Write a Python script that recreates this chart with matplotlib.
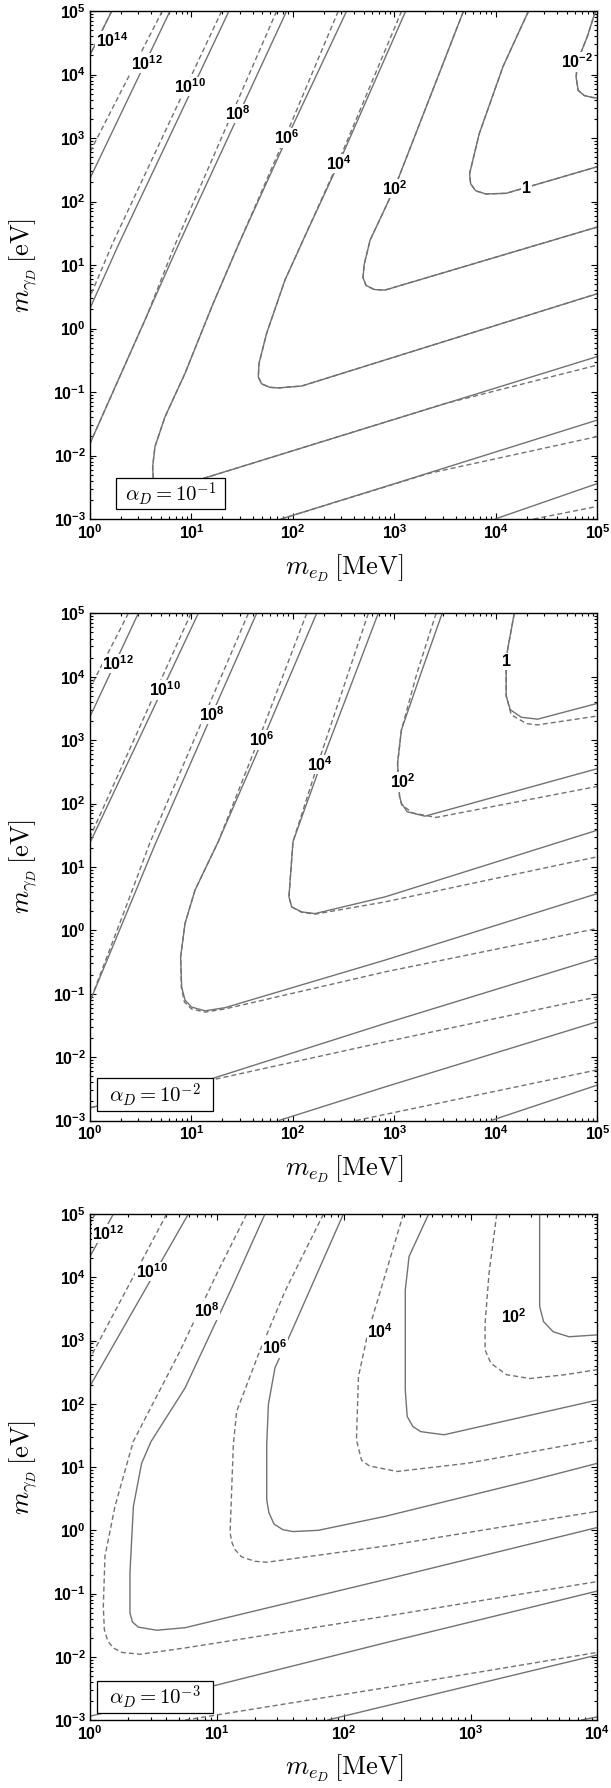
import matplotlib
matplotlib.use('Agg')
import matplotlib.pyplot as plt
from matplotlib.patches import Rectangle
from matplotlib.ticker import LogLocator, FuncFormatter, NullFormatter
import numpy as np

plt.rcParams['mathtext.fontset'] = 'custom'
plt.rcParams['mathtext.bf'] = 'Liberation Sans:bold'
plt.rcParams['mathtext.rm'] = 'Liberation Sans'
plt.rcParams['mathtext.it'] = 'Liberation Sans:italic'
plt.rcParams['mathtext.sf'] = 'Liberation Sans'

# All curves: (log10 m_eD / MeV, log10 m_gammaD / eV)
# ---------------- alpha_D = 1e-1 ----------------
a1_s14 = [(0.214, 5.0), (0.0, 4.31)]
a1_s12 = [(0.788, 5.0), (0.0, 2.365)]
a1_d12 = [(0.712, 5.0), (0.0, 2.78)]
a1_s10 = [(1.369, 5.0), (0.279, 1.315), (0.0, 0.318)]
a1_d10 = [(1.297, 5.0), (0.225, 1.35), (0.0, 0.50)]
a1_s8 = [(1.937, 5.0), (0.87, 1.315), (0.0, -1.81)]
a1_d8 = [(1.839, 5.0), (0.84, 1.33), (0.56, 0.2), (0.0, -1.81)]
a1_s8_low = [(1.88, -3.0), (2.906, -2.49), (5.0, -1.44)]
a1_d8_low = [(1.88, -3.0), (3.34, -2.28), (5.0, -1.70)]
a1_s10_low = [(3.99, -3.0), (5.0, -2.44)]
a1_d10_low = [(4.37, -3.0), (5.0, -2.8)]
a1_s6 = [(2.528, 5.0), (1.94, 3.0), (1.47, 1.35), (1.2, 0.344), (0.936, -0.706),
         (0.739, -1.39), (0.64, -1.86), (0.617, -2.18), (0.625, -2.40), (0.67, -2.52),
         (0.76, -2.56), (0.9, -2.50), (1.117, -2.36), (5.0, -0.44)]
a1_d6 = [(2.446, 5.0), (1.92, 3.0), (1.47, 1.35), (1.2, 0.344), (0.936, -0.706),
         (0.739, -1.39), (0.64, -1.86), (0.617, -2.18), (0.625, -2.40), (0.67, -2.52),
         (0.76, -2.56), (0.9, -2.50), (1.117, -2.36), (3.5, -1.18), (5.0, -0.575)]
a1_s4 = [(3.11, 5.0), (2.45, 2.6), (2.10, 1.394), (1.92, 0.76), (1.74, -0.076),
         (1.665, -0.55), (1.658, -0.76), (1.69, -0.87), (1.77, -0.925), (1.855, -0.935),
         (2.085, -0.905), (5.0, 0.55)]
a1_d4 = [(3.07, 5.0), (2.44, 2.6), (2.10, 1.394), (1.92, 0.76), (1.74, -0.076),
         (1.665, -0.55), (1.658, -0.76), (1.69, -0.87), (1.77, -0.925), (1.855, -0.935),
         (2.085, -0.905), (5.0, 0.55)]
a1_s2 = [(3.68, 5.0), (3.0, 2.21), (2.76, 1.394), (2.70, 1.0), (2.69, 0.80), (2.72, 0.68),
         (2.80, 0.615), (2.906, 0.606), (5.0, 1.6)]
a1_s0 = [(4.32, 5.0), (4.07, 4.13), (3.835, 3.07), (3.74, 2.44), (3.75, 2.28), (3.80, 2.17),
         (3.90, 2.12), (4.10, 2.13), (5.0, 2.55)]
a1_sm2 = [(4.98, 5.0), (4.9, 4.6), (4.8, 4.2), (4.79, 3.95), (4.81, 3.75), (4.87, 3.67),
          (4.95, 3.64), (5.0, 3.63)]
a1_labels = [('10^{14}', 0.214, 4.54), ('10^{12}', 0.558, 4.18), ('10^{10}', 0.985, 3.81),
             ('10^{8}', 1.46, 3.39), ('10^{6}', 1.94, 3.0), ('10^{4}', 2.45, 2.60),
             ('10^{2}', 3.0, 2.21), ('1', 4.30, 2.21), ('10^{-2}', 4.80, 4.20)]

# ---------------- alpha_D = 1e-2 ----------------
a2_s12 = [(0.476, 5.0), (0.0, 3.37)]
a2_d12 = [(0.378, 5.0), (0.0, 3.82)]
a2_s12_low = [(3.95, -3.0), (5.0, -2.44)]
a2_s10 = [(1.067, 5.0), (0.0, 1.38)]
a2_d10 = [(0.995, 5.0), (0.0, 1.47)]
a2_s10_low = [(1.86, -3.0), (2.906, -2.47), (5.0, -1.44)]
a2_d10_low = [(2.62, -3.0), (5.0, -2.2)]
a2_s8 = [(1.642, 5.0), (1.2, 3.4), (0.64, 1.35), (0.0, -1.12)]
a2_d8 = [(1.56, 5.0), (0.59, 1.38), (0.378, 0.47), (0.0, -1.12)]
a2_s8_low = [(0.0, -2.8), (0.5, -2.6), (1.2, -2.34), (2.906, -1.47), (5.0, -0.44)]
a2_d8_low = [(0.0, -2.8), (0.5, -2.6), (1.2, -2.36), (2.906, -1.76), (5.0, -1.05)]
a2_s6 = [(2.233, 5.0), (1.70, 3.0), (1.264, 1.40), (1.034, 0.632), (0.936, 0.106),
         (0.893, -0.42), (0.903, -0.893), (0.936, -1.10), (1.0, -1.21), (1.133, -1.27),
         (1.33, -1.22), (2.906, -0.47), (5.0, 0.58)]
a2_d6 = [(2.135, 5.0), (1.66, 3.0), (1.264, 1.40), (1.034, 0.632), (0.936, 0.106),
         (0.893, -0.42), (0.90, -0.90), (0.93, -1.13), (1.0, -1.24), (1.133, -1.29),
         (1.33, -1.24), (2.906, -0.656), (5.0, 0.03)]
a2_s4 = [(2.84, 5.0), (2.27, 2.6), (2.0, 1.40), (1.96, 0.527), (1.987, 0.369),
         (2.085, 0.29), (2.217, 0.264), (2.906, 0.527), (5.0, 1.58)]
a2_d4 = [(2.742, 5.0), (2.25, 2.65), (2.0, 1.40), (1.96, 0.527), (1.987, 0.369),
         (2.085, 0.285), (2.217, 0.255), (2.906, 0.448), (5.0, 1.16)]
a2_s2 = [(3.47, 5.0), (3.26, 4.05), (3.068, 3.16), (3.03, 2.63), (3.05, 2.11), (3.07, 2.0),
         (3.125, 1.87), (3.30, 1.80), (5.0, 2.55)]
a2_d2 = [(3.41, 5.0), (3.22, 4.05), (3.068, 3.16), (3.03, 2.63), (3.05, 2.11), (3.07, 1.98),
         (3.18, 1.85), (3.41, 1.78), (5.0, 2.27)]
a2_s0 = [(4.18, 5.0), (4.10, 4.3), (4.10, 3.7), (4.14, 3.48), (4.25, 3.36), (4.41, 3.33),
         (5.0, 3.58)]
a2_d0 = [(4.18, 5.0), (4.10, 4.3), (4.10, 3.7), (4.15, 3.40), (4.30, 3.26), (4.41, 3.24),
         (5.0, 3.38)]
a2_labels = [('10^{12}', 0.279, 4.21), ('10^{10}', 0.739, 3.79), ('10^{8}', 1.199, 3.40),
             ('10^{6}', 1.69, 3.0), ('10^{4}', 2.266, 2.61), ('10^{2}', 3.087, 2.34),
             ('1', 4.10, 4.24)]

# ---------------- alpha_D = 1e-3 ----------------
a3_s12 = [(0.184, 5.0), (0.0, 4.33)]
a3_d12 = [(0.04, 5.0), (0.0, 4.85)]
a3_s12_low = [(1.87, -3.0), (2.325, -2.78), (4.0, -1.97)]
a3_s14_low = [(3.87, -3.0), (4.0, -2.95)]
a3_s10 = [(0.775, 5.0), (0.0, 2.28)]
a3_d10 = [(0.604, 5.0), (0.0, 2.72)]
a3_s10_low = [(0.0, -2.94), (0.972, -2.46), (2.325, -1.78), (4.0, -0.96)]
a3_d10_low = [(0.75, -3.0), (2.325, -2.49), (4.0, -1.93)]
a3_s8 = [(1.379, 5.0), (1.117, 3.83), (0.749, 2.25), (0.48, 1.4), (0.407, 1.06),
         (0.342, 0.38), (0.315, -0.67), (0.315, -1.31), (0.335, -1.45), (0.38, -1.53),
         (0.525, -1.58), (0.749, -1.54), (2.325, -0.78), (4.0, 0.045)]
a3_d8 = [(1.235, 5.0), (1.01, 4.1), (0.696, 2.78), (0.34, 1.4), (0.197, 0.379),
         (0.118, -0.41), (0.105, -1.2), (0.113, -1.57), (0.14, -1.75), (0.184, -1.86),
         (0.25, -1.93), (0.394, -1.96), (0.749, -1.86), (2.325, -1.36), (4.0, -0.81)]
a3_s6 = [(1.997, 5.0), (1.59, 3.15), (1.458, 2.57), (1.406, 1.99), (1.393, 1.36),
         (1.393, 0.48), (1.41, 0.28), (1.45, 0.10), (1.52, 0.01), (1.60, -0.02),
         (1.80, 0.0), (2.325, 0.22), (3.5, 0.8), (4.0, 1.06)]
a3_d6 = [(1.84, 5.0), (1.537, 3.78), (1.327, 2.78), (1.156, 1.88), (1.13, 1.36),
         (1.104, -0.04), (1.12, -0.2), (1.143, -0.305), (1.195, -0.42), (1.3, -0.49),
         (1.393, -0.505), (2.325, -0.25), (4.0, 0.30)]
a3_s4 = [(2.669, 5.0), (2.515, 4.33), (2.485, 3.8), (2.485, 2.22), (2.5, 1.80),
         (2.545, 1.64), (2.607, 1.56), (2.79, 1.51), (4.0, 2.06)]
a3_d4 = [(2.47, 5.0), (2.33, 4.06), (2.19, 3.12), (2.116, 2.43), (2.10, 1.43), (2.14, 1.11),
         (2.20, 1.02), (2.246, 1.0), (2.42, 0.93), (2.976, 1.06), (4.0, 1.43)]
a3_s2 = [(3.544, 5.0), (3.544, 3.54), (3.575, 3.30), (3.65, 3.14), (3.775, 3.06),
         (4.0, 3.09)]
a3_d2 = [(3.206, 5.0), (3.145, 4.06), (3.114, 3.27), (3.114, 2.85), (3.16, 2.64),
         (3.283, 2.46), (3.467, 2.40), (3.743, 2.46), (4.0, 2.54)]
a3_labels = [('10^{12}', 0.144, 4.69), ('10^{10}', 0.486, 4.09), ('10^{8}', 0.92, 3.48),
             ('10^{6}', 1.46, 2.88), ('10^{4}', 2.285, 3.14), ('10^{2}', 3.34, 3.38)]

panels = [
    dict(rect=[0.1473, 0.7097, 0.8306, 0.2841], xmax=5, alpha='10^{-1}',
         box=(0.051, 0.019, 0.215, 0.061),
         solid=[a1_s14, a1_s12, a1_s10, a1_s8, a1_s8_low, a1_s10_low, a1_s6, a1_s4,
                a1_s2, a1_s0, a1_sm2],
         dashed=[a1_s14, a1_d12, a1_d10, a1_d8, a1_d8_low, a1_d10_low, a1_d6, a1_d4,
                 a1_s2, a1_s0, a1_sm2],
         labels=a1_labels),
    dict(rect=[0.1473, 0.3733, 0.8306, 0.2837], xmax=5, alpha='10^{-2}',
         box=(0.013, 0.019, 0.230, 0.064),
         solid=[a2_s12, a2_s12_low, a2_s10, a2_s10_low, a2_s8, a2_s8_low, a2_s6, a2_s4,
                a2_s2, a2_s0],
         dashed=[a2_d12, a2_d10, a2_d10_low, a2_d8, a2_d8_low, a2_d6, a2_d4, a2_d2, a2_d0],
         labels=a2_labels),
    dict(rect=[0.1473, 0.0380, 0.8306, 0.2830], xmax=4, alpha='10^{-3}',
         box=(0.013, 0.014, 0.230, 0.064),
         solid=[a3_s12, a3_s12_low, a3_s14_low, a3_s10, a3_s10_low, a3_s8, a3_s6, a3_s4,
                a3_s2],
         dashed=[a3_d12, a3_d10, a3_d10_low, a3_d8, a3_d6, a3_d4, a3_d2],
         labels=a3_labels),
]

LINE_COLOR = '#727272'

fig = plt.figure(figsize=(6.11, 17.88), dpi=100)

for p in panels:
    ax = fig.add_axes(p['rect'])
    ax.set_xscale('log')
    ax.set_yscale('log')
    ax.set_xlim(1, 10 ** p['xmax'])
    ax.set_ylim(1e-3, 1e5)

    for pts in p['solid']:
        u, v = np.array(pts).T
        ax.plot(10 ** u, 10 ** v, color=LINE_COLOR, lw=1.0, solid_capstyle='butt', zorder=2)
    for pts in p['dashed']:
        u, v = np.array(pts).T
        ax.plot(10 ** u, 10 ** v, color=LINE_COLOR, lw=1.0, linestyle=(0, (3.6, 2.2)), zorder=2)

    for s, u, v in p['labels']:
        ax.text(10 ** u, 10 ** v, r'$\mathbf{%s}$' % s, ha='center', va='center',
                fontsize=11.5, zorder=4,
                bbox=dict(facecolor='white', edgecolor='none', pad=0.2))

    # alpha_D box
    bx, by, bw, bh = p['box']
    ax.add_patch(Rectangle((bx, by), bw, bh, transform=ax.transAxes, facecolor='white',
                           edgecolor='black', lw=0.9, zorder=5))
    ax.text(bx + bw / 2, by + bh / 2, r'$\alpha_D = %s$' % p['alpha'], transform=ax.transAxes,
            ha='center', va='center', fontsize=15, zorder=6, math_fontfamily='cm')

    ax.xaxis.set_major_locator(LogLocator(base=10, numticks=20))
    ax.yaxis.set_major_locator(LogLocator(base=10, numticks=20))
    ax.xaxis.set_minor_locator(LogLocator(base=10, subs=np.arange(2, 10), numticks=100))
    ax.yaxis.set_minor_locator(LogLocator(base=10, subs=np.arange(2, 10), numticks=100))
    fmt = FuncFormatter(lambda val, pos: r'$\mathbf{10^{%d}}$' % round(np.log10(val)))
    ax.xaxis.set_major_formatter(fmt)
    ax.yaxis.set_major_formatter(fmt)
    ax.xaxis.set_minor_formatter(NullFormatter())
    ax.yaxis.set_minor_formatter(NullFormatter())
    ax.tick_params(which='both', direction='in', top=True, right=True, labelsize=11.5,
                   width=0.8, pad=3)
    ax.tick_params(which='major', length=4.5)
    ax.tick_params(which='minor', length=2.5)
    for sp in ax.spines.values():
        sp.set_linewidth(1.0)

    ax.text(0.5, -0.096, r'$m_{e_D}\,[\mathrm{MeV}]$', transform=ax.transAxes,
            ha='center', va='center', fontsize=19, math_fontfamily='cm')
    ax.text(-0.132, 0.5, r'$m_{\gamma_D}\,[\mathrm{eV}]$', transform=ax.transAxes,
            ha='center', va='center', fontsize=19, rotation=90, math_fontfamily='cm')

fig.savefig('out.png', dpi=100)
